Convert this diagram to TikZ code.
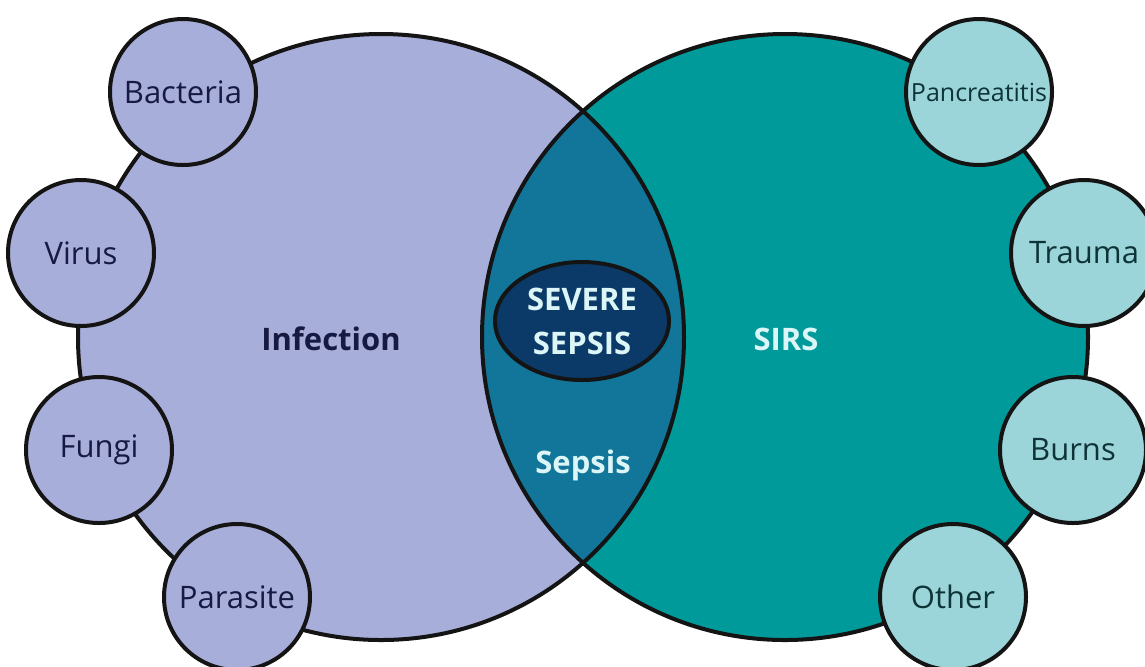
\documentclass[tikz,border=0pt]{standalone}
\usepackage{fontspec}
\setmainfont{Open Sans}
\usetikzlibrary{shapes.geometric}
\definecolor{cInf}  {HTML}{A8AEDA}
\definecolor{cSirs} {HTML}{009A9A}
\definecolor{cSirsL}{HTML}{9BD5D9}
\definecolor{cSep}  {HTML}{11769A}
\definecolor{cSev}  {HTML}{0B3A69}
\definecolor{cInk}  {HTML}{161A42}
\definecolor{cInkT} {HTML}{0E3438}
\definecolor{cPale} {HTML}{DCF6F8}
\tikzset{
  outl/.style  ={draw=black!92,line width=2pt},
  bigc/.style  ={circle,minimum size=303pt,inner sep=0pt,outer sep=0pt},
  cause/.style ={circle,outl,minimum size=73pt,inner sep=0pt,
                 font=\fontsize{15.5}{18}\selectfont},
  infc/.style  ={cause,fill=cInf,text=cInk},
  sirc/.style  ={cause,fill=cSirsL,text=cInkT},
  head/.style  ={font=\fontsize{15.5}{18}\selectfont\bfseries,anchor=base,inner sep=0pt},
  sevbox/.style={ellipse,outl,fill=cSev,text=cPale,minimum width=87pt,minimum height=59pt,
                 inner sep=0pt,align=center,font=\fontsize{15.5}{22}\selectfont\bfseries},
}

\begin{document}
\begin{tikzpicture}[x=0.5pt,y=-0.5pt]
\useasboundingbox (0,0) rectangle (1145,666);

% ===== the two sets ========================================================
\node[bigc,fill=cInf]  (inf)  at (381,337) {};
\node[bigc,fill=cSirs] (sirs) at (785,337) {};
\begin{scope}
  \clip (inf.center) circle[radius=151.5pt];
  \fill[cSep] (sirs.center) circle[radius=151.5pt];
\end{scope}
\draw[outl] (inf.center) circle[radius=151.5pt];
\draw[outl] (sirs.center) circle[radius=151.5pt];

% ===== labels ==============================================================
\node[head,text=cInk]  (infl)  at (331,350) {Infection};
\node[head,text=cPale] (sirsl) at (786,350) {SIRS};
\node[head,text=cPale] (sepl)  at (583,473) {Sepsis};
\node[sevbox] (sev) at (582,321) {SEVERE\\SEPSIS};

% ===== causes round the rim ================================================
\node[infc] (bac) at (183,92)  {Bacteria};
\node[infc] (vir) at (81,253)  {Virus};
\node[infc] (fun) at (99,450)  {Fungi};
\node[infc] (par) at (237,597) {Parasite};
\node[sirc,font=\fontsize{12.5}{14}\selectfont] (pan) at (979,92) {Pancreatitis};
\node[sirc] (tra) at (1084,253) {Trauma};
\node[sirc] (bur) at (1073,450) {Burns};
\node[sirc] (oth) at (953,597)  {Other};
\end{tikzpicture}
\end{document}
